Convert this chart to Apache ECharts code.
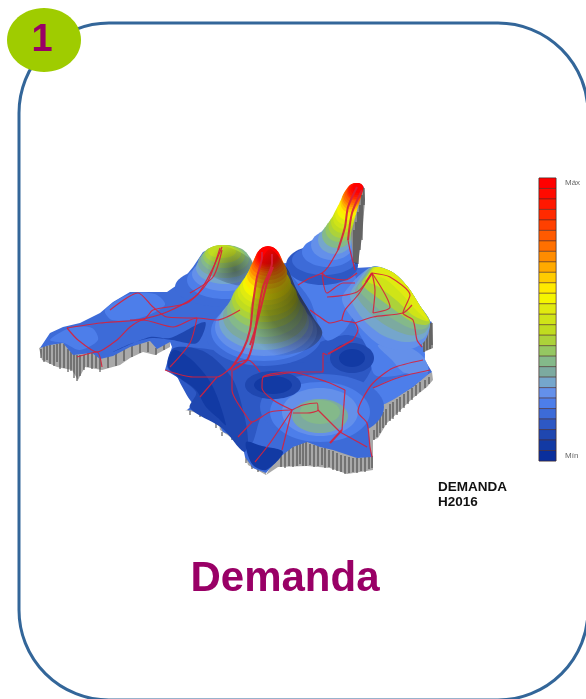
<!DOCTYPE html>
<html>
<head>
<meta charset="utf-8">
<style>
  html, body { margin: 0; padding: 0; background: #fff; }
  #main { width: 586px; height: 699px; filter: blur(0.45px); }
</style>
<script src="https://cdn.jsdelivr.net/npm/echarts@6/dist/echarts.min.js"></script>
</head>
<body>
<div id="main"></div>
<script>
// colour scale, top cell (Máx) first
var levelColors = ['#ff0000', '#ff0a00', '#ff1800', '#ff2a00', '#ff4000', '#ff5a00', '#ff7000', '#ff8c00', '#ffaa00',
  '#ffcc00', '#ffea00', '#f5f500', '#e0ea10', '#cfe418', '#c0dc20', '#acd23a', '#95c762', '#84b98a', '#7caaa0',
  '#75a6cc', '#6490ea', '#4d7eea', '#3d6bd8', '#2d58c4', '#1f47b0', '#123aa4', '#0a2f9c']
var levelLabels = ['Máx', '', '', '', '', '', '', '', '', '', '', '', '', '', '', '', '', '', '', '', '', '', '', '', '', '', 'Mín']

// map outline in plot units
var surfaceOutline = [[40, 348], [50, 333], [63, 327], [80, 323], [100, 313], [113, 302], [130, 292], [147, 292], [167, 292],
  [180, 283], [193, 267], [203, 252], [220, 245], [240, 252], [255, 265], [287, 263], [293, 257], [313, 243], [327, 230],
  [337, 210], [347, 192], [358, 183], [364, 187], [358, 207], [351, 233], [355, 268], [373, 267], [387, 270], [403, 283],
  [417, 303], [427, 320], [432, 322], [422, 340], [423, 357], [432, 372], [423, 378], [413, 387], [400, 395], [390, 400],
  [378, 408], [368, 425], [370, 447], [372, 457], [357, 458], [333, 450], [320, 447], [307, 442], [293, 447], [280, 457],
  [266, 473], [253, 468], [245, 457], [243, 447], [248, 437], [238, 438], [223, 432], [218, 422], [220, 415], [210, 412],
  [187, 410], [198, 400], [195, 393], [183, 383], [177, 377], [165, 370], [167, 363], [172, 347], [170, 342], [157, 349],
  [150, 341], [130, 347], [113, 356], [100, 359], [92, 353], [73, 355], [63, 343], [50, 345]]

// grey sides under the map
var wallShapes = [
  [[39, 348], [42, 360], [57, 367], [72, 370], [78, 380], [85, 367], [102, 370], [120, 365], [130, 358], [143, 352], [155, 355], [170, 347], [170, 340], [150, 338], [92, 350], [60, 340]],
  [[266, 475], [278, 467], [307, 466], [330, 468], [347, 474], [373, 470], [373, 440], [378, 438], [387, 423], [413, 398], [427, 387], [433, 380], [432, 372], [400, 392], [372, 412], [366, 440], [350, 450], [307, 438], [280, 450]],
  [[185, 410], [210, 416], [218, 418], [220, 430], [232, 438], [248, 440], [243, 448], [248, 465], [266, 475], [266, 465], [245, 450], [248, 435], [225, 428], [212, 409]]
]
var sideWalls = [
  [[364, 187], [365, 200], [362, 237], [358, 263], [353, 262], [351, 233], [358, 207]],
  [[420, 335], [432, 322], [433, 348], [424, 352]]
]
var frontSlats = [[41, 349, 358], [44, 346, 362], [47, 346, 360], [50, 345, 364], [54, 345, 366], [57, 344, 362], [60, 343, 369],
  [64, 344, 368], [68, 349, 372], [71, 352, 371], [74, 354, 378], [77, 355, 381], [80, 355, 376], [84, 355, 370], [88, 353, 367],
  [92, 353, 369], [96, 354, 368], [100, 358, 372], [108, 356, 368], [116, 352, 366], [124, 349, 361], [132, 346, 357], [140, 344, 353],
  [148, 342, 352], [156, 348, 355], [164, 344, 350], [190, 411, 415], [200, 412, 417], [210, 413, 420], [216, 420, 428], [222, 432, 436],
  [232, 436, 440], [242, 438, 442], [246, 450, 463], [252, 462, 469], [258, 466, 472], [281, 456, 467], [285, 452, 468], [289, 449, 466],
  [293, 447, 467], [297, 445, 466], [300, 443, 464], [303, 442, 466], [306, 441, 466], [310, 444, 465], [314, 445, 467], [318, 446, 466],
  [322, 448, 465], [325, 448, 468], [329, 450, 467], [333, 451, 470], [337, 453, 471], [341, 455, 472], [345, 456, 474], [349, 457, 473],
  [353, 458, 472], [357, 458, 473], [361, 458, 471], [365, 457, 472], [369, 457, 469], [372, 456, 468], [374, 430, 440], [377, 420, 437],
  [380, 415, 433], [383, 412, 428], [386, 409, 425], [390, 404, 421], [393, 402, 419], [397, 399, 415], [400, 397, 412], [404, 394, 408],
  [408, 391, 404], [412, 388, 400], [416, 385, 396], [420, 382, 392], [425, 380, 388], [429, 377, 384]]
var sideSlats = [[354, 230, 263], [356, 222, 264], [358, 212, 264], [360, 205, 250], [362, 195, 240], [364, 188, 205],
  [424, 335, 352], [427, 328, 350], [430, 323, 349], [432, 323, 345]]

// flat colour zones: level, then ring
var lowZones = [
  [23, [[172, 350], [240, 355], [300, 372], [262, 415], [250, 445], [225, 430], [190, 400]]],
  [23, [[290, 360], [345, 335], [375, 350], [360, 385], [320, 378]]],
  [24, [[168, 368], [174, 348], [205, 352], [232, 378], [243, 410], [248, 440], [244, 452], [222, 428], [190, 408], [196, 392]]],
  [25, [[168, 366], [174, 350], [192, 360], [212, 385], [226, 425], [218, 418], [206, 407], [196, 390], [180, 378]]],
  [25, [[246, 442], [262, 446], [283, 452], [266, 470], [252, 464]]],
  [24, [[113, 352], [150, 337], [170, 338], [205, 322], [197, 343], [172, 340], [152, 338], [130, 344]]],
  [21, [[50, 340], [70, 328], [92, 328], [98, 340], [80, 350], [64, 343]]],
  [21, [[105, 310], [130, 294], [155, 294], [165, 305], [140, 318], [112, 320]]],
  [23, [[268, 368], [320, 362], [345, 368], [345, 380], [295, 382], [262, 392]]],
  [21, [[290, 268], [350, 268], [358, 300], [345, 330], [326, 340], [310, 300]]],
  [21, [[355, 322], [390, 340], [422, 345], [423, 365], [400, 375], [375, 375], [368, 350]]],
  [20, [[378, 345], [410, 348], [424, 358], [428, 372], [405, 373], [392, 360]]],
  [21, [[365, 395], [395, 378], [428, 373], [405, 392], [380, 405]]]
]
// hump rings: level, centre x, centre y, half width, half height
var leftHump = [[22, 225, 287, 50, 20], [21, 225, 280, 38, 19], [20, 225, 274, 33, 17], [19, 225, 268, 29, 16], [18, 225, 263, 27, 15],
  [17, 225, 259, 24, 14], [16, 224, 256.5, 21, 11.5], [15, 223, 254, 18, 9], [14, 222, 251.5, 14, 6.5]]
var spikeHump = [[23, 322, 265, 36, 20], [22, 324, 260, 32, 15], [21, 328, 252, 26, 15], [20, 332, 245, 21, 15], [19, 335, 240, 17, 14], [17, 337, 235, 15, 13],
  [16, 339, 230, 13.5, 12], [15, 341, 226, 12.5, 12], [14, 342.5, 222, 11.5, 11], [13, 344, 218, 11, 11], [12, 345.5, 214, 10.5, 10.5],
  [11, 347, 210, 10, 10], [10, 348.5, 206, 9.5, 10], [9, 350, 203, 9.5, 9.5], [8, 351, 200, 9.5, 9.5], [7, 352, 198, 9.5, 9],
  [6, 353, 196, 9.5, 9], [5, 354, 194, 9, 9], [4, 355, 192, 8.5, 8.5], [3, 355.5, 191, 8, 8], [2, 356, 190, 7.5, 7], [1, 357, 189, 6.5, 6], [0, 358, 188, 5.5, 5]]
var frontHump = [[22, 322, 407, 62, 33], [21, 320, 412, 50, 30], [20, 320, 412, 38, 24], [18, 320, 416, 28, 17], [17, 320, 412, 20, 12]]
var pockets = [[24, 352, 358, 22, 15], [25, 352, 358, 13, 9], [24, 273, 385, 28, 14], [25, 273, 385, 19, 9]]
var centralPeak = [[22, 264, 335, 58, 31], [21, 264, 331, 53, 30], [20, 264, 327, 49, 29], [19, 264, 322, 45, 28], [18, 265, 317, 42, 27],
  [17, 265, 311, 38, 26], [16, 265, 305, 35, 24], [15, 265, 300, 33, 22], [14, 266, 296, 31, 20], [13, 266, 292, 28.5, 18], [12, 266, 288, 26, 17], [11, 267, 284, 24, 16],
  [10, 267, 280, 22, 14], [9, 267, 276, 20, 13], [8, 268, 272, 19, 12], [7, 268, 269, 18, 11], [6, 268, 266, 16.5, 10], [5, 268, 263, 15, 10],
  [4, 268, 261, 14, 10], [3, 268, 259, 13, 10], [2, 268, 257, 12, 10], [1, 268, 256, 11, 9.5], [0, 268, 255, 10, 9]]
var rightHump = [
  [20, [[342, 300], [352, 283], [366, 270], [375, 266], [392, 272], [407, 286], [420, 306], [430, 322], [424, 342], [405, 350], [380, 345], [358, 325]]],
  [19, [[350, 296], [358, 281], [370, 268], [392, 272], [407, 286], [420, 306], [430, 322], [424, 338], [405, 342], [382, 335], [362, 318]]],
  [18, [[355, 292], [362, 279], [372, 267], [392, 272], [407, 286], [420, 306], [430, 322], [424, 333], [408, 335], [385, 325], [367, 310]]],
  [17, [[358, 288], [365, 277], [373, 267], [392, 272], [407, 286], [420, 306], [430, 322], [424, 329], [410, 328], [388, 316], [370, 302]]],
  [15, [[362, 284], [368, 274], [374, 267], [392, 272], [407, 286], [420, 306], [430, 322], [425, 325], [412, 322], [392, 308], [374, 295]]],
  [13, [[366, 280], [371, 271], [375, 267], [392, 272], [407, 286], [420, 306], [429, 321], [414, 316], [396, 300], [379, 287]]],
  [12, [[372, 274], [377, 267], [392, 272], [407, 286], [420, 306], [428, 320], [416, 310], [400, 292], [385, 279]]]
]
var peakShade = [[268, 250], [285, 265], [297, 290], [313, 317], [322, 335], [300, 352], [260, 352], [250, 320], [255, 290]]
var humpShade = [[222, 246], [240, 252], [255, 265], [248, 285], [225, 282], [205, 270], [212, 252]]

// road network
var mainRoads = [
  [[262, 252], [262, 257], [257, 277], [253, 303], [250, 330], [243, 350], [230, 370]],
  [[272, 254], [272, 263], [263, 287], [258, 313], [253, 343], [247, 360], [233, 370]],
  [[273, 267], [267, 283], [262, 303], [255, 330], [250, 345]],
  [[357, 187], [348, 207], [345, 227], [338, 250]],
  [[362, 190], [352, 213], [348, 240]],
  [[353, 340], [328, 354]],
  [[342, 430], [330, 443]],
  [[372, 273], [366, 282]]
]
var roads = [
  [[338, 250], [328, 267], [322, 273], [310, 278], [298, 285]],
  [[348, 240], [350, 250], [355, 270]],
  [[322, 273], [327, 277], [345, 280], [357, 273]],
  [[322, 273], [327, 293], [343, 283], [355, 283]],
  [[327, 297], [357, 292], [372, 273]],
  [[372, 273], [358, 295], [345, 310], [342, 320], [355, 323], [358, 330], [353, 340]],
  [[342, 320], [330, 323], [320, 317], [310, 310]],
  [[355, 323], [373, 317], [403, 313], [412, 305]],
  [[372, 273], [390, 277], [410, 295], [403, 313], [413, 320], [417, 340], [422, 347]],
  [[372, 273], [375, 290], [373, 313]],
  [[372, 273], [390, 307], [373, 313]],
  [[423, 360], [393, 368], [373, 383], [362, 400], [358, 412], [367, 423], [370, 447], [372, 457]],
  [[430, 370], [400, 377], [373, 388]],
  [[345, 390], [342, 430]],
  [[340, 432], [367, 447]],
  [[345, 390], [327, 382], [290, 372], [263, 377], [262, 388], [273, 400], [292, 410]],
  [[292, 410], [270, 443], [255, 462]],
  [[292, 410], [282, 450]],
  [[292, 410], [303, 405], [317, 403], [318, 410], [307, 413], [293, 413]],
  [[318, 410], [340, 432]],
  [[263, 377], [300, 372], [323, 372], [323, 353], [327, 355]],
  [[165, 370], [193, 377], [217, 377], [237, 363], [248, 360], [260, 372]],
  [[217, 377], [200, 397]],
  [[232, 370], [232, 390], [247, 417], [252, 422], [270, 412], [292, 410]],
  [[252, 422], [238, 437]],
  [[67, 328], [100, 323], [137, 320], [167, 312], [197, 295], [212, 270], [222, 247]],
  [[67, 328], [78, 340], [97, 352], [117, 340], [130, 327], [143, 320], [173, 327], [197, 318], [217, 320], [240, 310]],
  [[110, 310], [138, 293], [153, 307], [167, 317], [197, 318]],
  [[130, 320], [143, 320], [153, 310], [187, 303], [207, 283], [220, 248]],
  [[197, 318], [190, 343], [170, 367]],
  [[190, 293], [213, 277], [222, 250]],
  [[77, 357], [97, 352], [102, 367]]
]

function ringSeries(rows) {
  return {
    type: 'custom',
    coordinateSystem: 'cartesian2d',
    xAxisIndex: 0,
    yAxisIndex: 0,
    silent: true,
    clip: false,
    data: rows.map(function (r) { return [r[1], r[2], r[3], r[4], r[0]] }),
    renderItem: function (params, api) {
      var c = api.coord([api.value(0), api.value(1)])
      var s = api.size([api.value(2), api.value(3)])
      return {
        type: 'ellipse',
        shape: { cx: c[0], cy: c[1], rx: s[0], ry: s[1] },
        style: { fill: levelColors[api.value(4)] }
      }
    }
  }
}

function polygonSeries(rows, color, smooth) {
  return {
    type: 'custom',
    coordinateSystem: 'cartesian2d',
    xAxisIndex: 0,
    yAxisIndex: 0,
    silent: true,
    clip: false,
    data: rows.map(function (r, i) { return [i] }),
    renderItem: function (params, api) {
      var row = rows[params.dataIndex]
      var ring = color ? row : row[1]
      return {
        type: 'polygon',
        shape: { points: ring.map(function (p) { return api.coord(p) }), smooth: smooth },
        style: { fill: color || levelColors[row[0]] }
      }
    }
  }
}

function slatSeries(rows) {
  return {
    type: 'custom',
    coordinateSystem: 'cartesian2d',
    xAxisIndex: 0,
    yAxisIndex: 0,
    silent: true,
    clip: false,
    data: rows,
    renderItem: function (params, api) {
      var a = api.coord([api.value(0), api.value(1)])
      var b = api.coord([api.value(0), api.value(2)])
      return {
        type: 'line',
        shape: { x1: a[0], y1: a[1], x2: b[0], y2: b[1] },
        style: { stroke: '#3c3c3c', lineWidth: 1 }
      }
    }
  }
}

function roadSeries(road, width) {
  return {
    type: 'line',
    xAxisIndex: 0,
    yAxisIndex: 0,
    data: road,
    showSymbol: false,
    silent: true,
    smooth: 0.25,
    lineStyle: { color: '#d8203a', width: width, opacity: 0.9 }
  }
}

var peakFill = new echarts.graphic.RadialGradient(0.75, 0.45, 0.9, [
  { offset: 0, color: 'rgba(30,20,10,0.65)' },
  { offset: 0.6, color: 'rgba(30,20,10,0.42)' },
  { offset: 1, color: 'rgba(30,20,10,0)' }
])
var humpFill = new echarts.graphic.RadialGradient(0.6, 0.6, 0.7, [
  { offset: 0, color: 'rgba(30,30,30,0.5)' },
  { offset: 1, color: 'rgba(30,30,30,0)' }
])

var series = [
  polygonSeries(wallShapes, '#a9a9a9', 0),
  slatSeries(frontSlats),
  polygonSeries([surfaceOutline], levelColors[22], 0),
  polygonSeries(lowZones, null, 0.3),
  ringSeries(leftHump),
  polygonSeries([humpShade], humpFill, 0.3),
  ringSeries(spikeHump),
  polygonSeries(sideWalls, '#8c8c8c', 0),
  slatSeries(sideSlats),
  polygonSeries(rightHump, null, 0.3),
  ringSeries(frontHump),
  ringSeries(pockets),
  ringSeries(centralPeak),
  polygonSeries([peakShade], peakFill, 0.4)
]

roads.forEach(function (road) { series.push(roadSeries(road, 1.2)) })
mainRoads.forEach(function (road) { series.push(roadSeries(road, 2)) })

// colour bar
series.push({
  type: 'custom',
  coordinateSystem: 'cartesian2d',
  xAxisIndex: 1,
  yAxisIndex: 1,
  silent: true,
  data: levelColors.map(function (c, i) { return [0, i] }),
  renderItem: function (params, api) {
    var c = api.coord([0, api.value(1)])
    var s = api.size([1, 1])
    return {
      type: 'rect',
      shape: { x: c[0] - s[0] / 2, y: c[1] - s[1] / 2, width: s[0], height: s[1] },
      style: { fill: levelColors[params.dataIndex], stroke: 'rgba(70,35,30,0.7)', lineWidth: 0.7 }
    }
  }
})

var myChart = echarts.init(document.getElementById('main'), null, { renderer: 'canvas' })
myChart.setOption({
  animation: false,
  grid: [
    { left: 0, top: 0, width: 586, height: 699 },
    { left: 539, top: 178, width: 17, height: 283, show: true, borderColor: '#8a8a8a', borderWidth: 1, backgroundColor: 'transparent' }
  ],
  xAxis: [
    { type: 'value', min: 0, max: 586, show: false, gridIndex: 0 },
    { type: 'category', data: ['a'], show: false, gridIndex: 1 }
  ],
  yAxis: [
    { type: 'value', min: 0, max: 699, inverse: true, show: false, gridIndex: 0 },
    {
      type: 'category',
      data: levelLabels,
      inverse: true,
      position: 'right',
      gridIndex: 1,
      axisLine: { show: false },
      axisTick: { show: false },
      splitLine: { show: false },
      axisLabel: { interval: 0, margin: 9, fontSize: 8, color: '#666', fontFamily: 'Liberation Sans' }
    }
  ],
  graphic: [
    {
      type: 'rect',
      z: -10,
      shape: { x: 19, y: 23, width: 569, height: 677, r: 90 },
      style: { fill: '#fff', stroke: '#336699', lineWidth: 3 }
    },
    {
      type: 'ellipse',
      z: 10,
      shape: { cx: 44, cy: 40, rx: 37, ry: 32 },
      style: { fill: '#9fcc00' }
    },
    {
      type: 'text',
      z: 11,
      style: { x: 42, y: 60, text: '1', textAlign: 'center', textVerticalAlign: 'bottom', fill: '#990066', font: 'bold 38px "Liberation Sans"' }
    },
    {
      type: 'text',
      z: 11,
      style: { x: 285, y: 600, text: 'Demanda', textAlign: 'center', textVerticalAlign: 'bottom', fill: '#990066', font: 'bold 42px "Liberation Sans"' }
    },
    {
      type: 'text',
      z: 11,
      style: { x: 438, y: 494, text: 'DEMANDA', textVerticalAlign: 'bottom', fill: '#111', font: 'bold 13.5px "Liberation Sans"' }
    },
    {
      type: 'text',
      z: 11,
      style: { x: 438, y: 509, text: 'H2016', textVerticalAlign: 'bottom', fill: '#111', font: 'bold 13.5px "Liberation Sans"' }
    }
  ],
  series: series
})
</script>
</body>
</html>
